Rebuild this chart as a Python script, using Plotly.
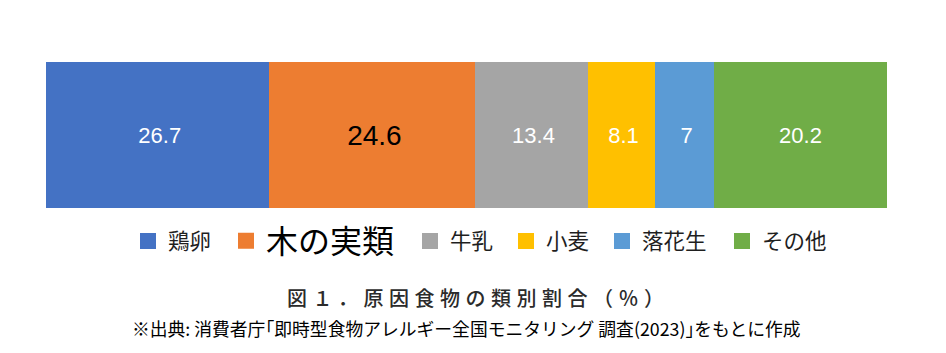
import plotly.graph_objects as go

categories = ["鶏卵", "木の実類", "牛乳", "小麦", "落花生", "その他"]
values = [26.7, 24.6, 13.4, 8.1, 7, 20.2]
colors = ["#4472C4", "#ED7D31", "#A5A5A5", "#FFC000", "#5B9BD5", "#70AD47"]
label_colors = ["white", "black", "white", "white", "white", "white"]
label_sizes = [22, 28, 22, 22, 22, 22]
legend_text_left_px = [169, 267, 451, 547, 643, 763]
title_text = "図１．原因食物の類別割合（％）"
source_text = "※出典: 消費者庁｢即時型食物アレルギー全国モニタリング 調査(2023)｣をもとに作成"

W, H = 946, 353
L, R, T, B = 46, 59, 62, 145
pw, ph = W - L - R, H - T - B
LW = 4  # outline width (same colour as fill), also sizes legend swatch
# extend ranges so the outlined bars exactly fill the plot area
xpad = 100 * (LW / 2) / (pw - LW)
ypad = 0.5 * ph / (ph - LW)

fig = go.Figure()
for i, (cat, v) in enumerate(zip(categories, values)):
    lg = "legend" if i == 0 else f"legend{i+1}"
    fig.add_trace(go.Bar(
        y=[0], x=[v], orientation="h", name=cat, width=1,
        marker=dict(color=colors[i], line=dict(color=colors[i], width=LW)),
        text=[v], texttemplate="%{text}", textposition="inside",
        insidetextanchor="middle", textangle=0,
        textfont=dict(family="Liberation Sans, Arial", size=label_sizes[i], color=label_colors[i]),
        legend=lg, showlegend=True, hoverinfo="skip",
    ))

legend_cfg = {}
for i, cat in enumerate(categories):
    key = "legend" if i == 0 else f"legend{i+1}"
    big = (i == 1)
    legend_cfg[key] = dict(
        xref="container", yref="container",
        x=(legend_text_left_px[i] - 41) / W, xanchor="left",
        y=1 - 241 / H, yanchor="middle",
        orientation="h", bgcolor="rgba(0,0,0,0)", borderwidth=0,
        font=dict(family="Noto Sans CJK JP", size=32 if big else 21.5,
                  color="#000000" if big else "#1f1f1f"),
    )

fig.update_layout(
    width=W, height=H, barmode="stack",
    margin=dict(l=L, r=R, t=T, b=B, pad=0),
    paper_bgcolor="white", plot_bgcolor="white",
    xaxis=dict(range=[-xpad, 100 + xpad], visible=False, fixedrange=True),
    yaxis=dict(range=[-ypad, ypad], visible=False, fixedrange=True),
    **legend_cfg,
    annotations=[
        dict(text=f'<span style="letter-spacing:5.5px">{title_text}</span>',
             xref="paper", yref="paper",
             x=(478 - L) / pw, y=-(297 - (T + ph)) / ph,
             xanchor="center", yanchor="middle", showarrow=False,
             font=dict(family="Noto Sans CJK JP", size=20, color="#2b2b2b", weight=500)),
        dict(text=source_text,
             xref="paper", yref="paper",
             x=(466 - L) / pw, y=-(328 - (T + ph)) / ph,
             xanchor="center", yanchor="middle", showarrow=False,
             font=dict(family="Noto Sans CJK JP", size=17.8, color="#000000")),
    ],
)

fig.write_html("out.html")
